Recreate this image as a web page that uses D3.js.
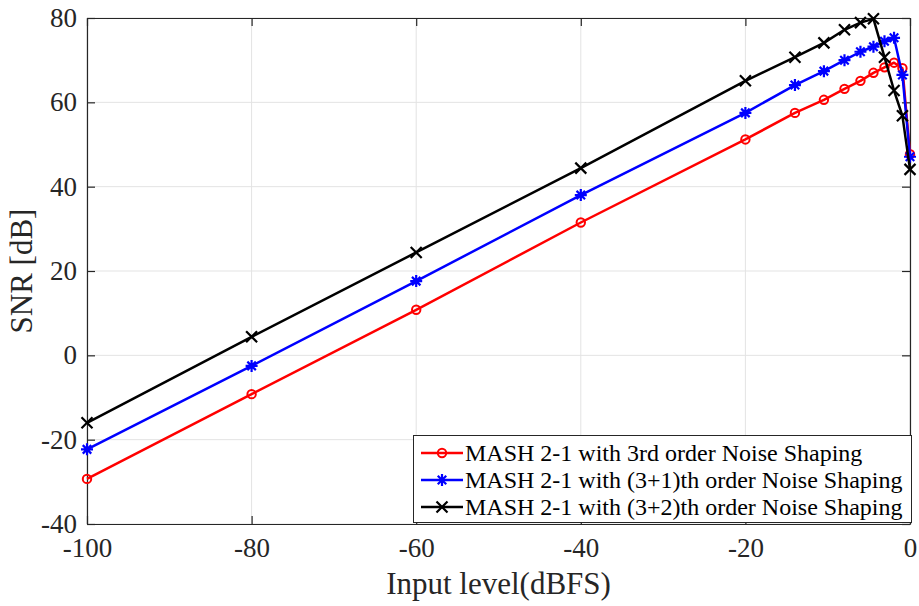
<!DOCTYPE html>
<html><head><meta charset="utf-8">
<script src="https://cdn.jsdelivr.net/npm/d3@7"></script>
<style>body{margin:0;background:#fff}svg{display:block}</style>
</head><body><svg id="c" width="919" height="606"></svg>
<script>
const xValues = [-100, -80, -60, -40, -20, -13.98, -10.46, -7.96, -6.02, -4.44, -3.10, -1.94, -0.92, 0];
const snr3 = [-29.3, -9.2, 10.8, 31.5, 51.2, 57.5, 60.6, 63.2, 65.1, 67.0, 68.3, 69.4, 68.1, 47.7];
const snr31 = [-22.3, -2.5, 17.6, 38.0, 57.5, 64.1, 67.4, 70.0, 72.0, 73.2, 74.5, 75.3, 66.5, 47.1];
const snr32 = [-16.0, 4.4, 24.4, 44.4, 65.1, 70.7, 74.1, 77.2, 78.9, 79.8, 70.7, 62.8, 56.8, 44.1];
const seriesNames = ["MASH 2-1 with 3rd order Noise Shaping", "MASH 2-1 with (3+1)th order Noise Shaping", "MASH 2-1 with (3+2)th order Noise Shaping"];
const xTicks = [-100, -80, -60, -40, -20, 0];
const yTicks = [-40, -20, 0, 20, 40, 60, 80];
const xLabel = "Input level(dBFS)";
const yLabel = "SNR [dB]";

const series = [
  {name: seriesNames[0], values: snr3, color: "#ff0000", marker: "circle"},
  {name: seriesNames[1], values: snr31, color: "#0000ff", marker: "asterisk"},
  {name: seriesNames[2], values: snr32, color: "#000000", marker: "cross"}
];

const svg = d3.select("#c");
const L = 87, R = 910, T = 18, B = 524;
const x = d3.scaleLinear().domain([-100, 0]).range([L, R]);
const y = d3.scaleLinear().domain([-40, 80]).range([B, T]);
const axisColor = "#262626";
const font = "'Liberation Serif','Times New Roman',serif";
const fmt = d => String(d);

// grid
svg.append("g").selectAll("line").data(xTicks).join("line")
  .attr("x1", d => x(d)).attr("x2", d => x(d)).attr("y1", T).attr("y2", B)
  .attr("stroke", "#e3e3e3").attr("stroke-width", 1);
svg.append("g").selectAll("line").data(yTicks).join("line")
  .attr("x1", L).attr("x2", R).attr("y1", d => y(d)).attr("y2", d => y(d))
  .attr("stroke", "#e3e3e3").attr("stroke-width", 1);

// axes
const xAxis = d3.axisBottom(x).tickValues(xTicks).tickSizeInner(-8).tickSizeOuter(0).tickPadding(14).tickFormat(fmt);
const yAxis = d3.axisLeft(y).tickValues(yTicks).tickSizeInner(-8).tickSizeOuter(0).tickPadding(10).tickFormat(fmt);
const gx = svg.append("g").attr("transform", `translate(0,${B})`).call(xAxis);
const gy = svg.append("g").attr("transform", `translate(${L},0)`).call(yAxis);
const gx2 = svg.append("g").attr("transform", `translate(0,${T})`).call(d3.axisTop(x).tickValues(xTicks).tickSizeInner(-8).tickSizeOuter(0).tickFormat(""));
const gy2 = svg.append("g").attr("transform", `translate(${R},0)`).call(d3.axisRight(y).tickValues(yTicks).tickSizeInner(-8).tickSizeOuter(0).tickFormat(""));
[gx, gy, gx2, gy2].forEach(g => {
  g.select(".domain").attr("stroke", axisColor).attr("stroke-width", 1.2);
  g.selectAll(".tick line").attr("stroke", axisColor).attr("stroke-width", 1.2);
  g.selectAll(".tick text").attr("fill", axisColor).style("font-family", font).style("font-size", "27px");
});

// axis titles
svg.append("text").attr("x", (L + R) / 2).attr("y", 594).attr("text-anchor", "middle")
  .style("font-family", font).style("font-size", "31px").attr("fill", axisColor).text(xLabel);
svg.append("text").attr("transform", `translate(32,${(T + B) / 2}) rotate(-90)`).attr("text-anchor", "middle")
  .style("font-family", font).style("font-size", "31px").attr("fill", axisColor).text(yLabel);

// markers
function drawMarker(g, type, cx, cy, color) {
  if (type === "circle") {
    g.append("circle").attr("cx", cx).attr("cy", cy).attr("r", 4.2)
      .attr("fill", "none").attr("stroke", color).attr("stroke-width", 2);
  } else if (type === "cross") {
    const s = 5.5;
    g.append("path").attr("d", `M${cx - s},${cy - s}L${cx + s},${cy + s}M${cx - s},${cy + s}L${cx + s},${cy - s}`)
      .attr("stroke", color).attr("stroke-width", 2.2).attr("fill", "none");
  } else {
    const s = 6;
    const d = 0.7071 * s;
    g.append("path").attr("d", `M${cx - s},${cy}L${cx + s},${cy}M${cx},${cy - s}L${cx},${cy + s}M${cx - d},${cy - d}L${cx + d},${cy + d}M${cx - d},${cy + d}L${cx + d},${cy - d}`)
      .attr("stroke", color).attr("stroke-width", 2.2).attr("fill", "none");
  }
}

const line = d3.line().x((d, i) => x(xValues[i])).y(d => y(d));
series.forEach(s => {
  const g = svg.append("g");
  g.append("path").datum(s.values).attr("d", line).attr("fill", "none")
    .attr("stroke", s.color).attr("stroke-width", 2.5).attr("stroke-linejoin", "round");
  s.values.forEach((v, i) => drawMarker(g, s.marker, x(xValues[i]), y(v), s.color));
});

// legend
const lg = svg.append("g");
lg.append("rect").attr("x", 413.5).attr("y", 435.5).attr("width", 498).attr("height", 87)
  .attr("fill", "#fff").attr("stroke", axisColor).attr("stroke-width", 1);
series.forEach((s, i) => {
  const cy = 453 + i * 27;
  lg.append("line").attr("x1", 421).attr("x2", 463).attr("y1", cy).attr("y2", cy)
    .attr("stroke", s.color).attr("stroke-width", 2.5);
  drawMarker(lg, s.marker, 442, cy, s.color);
  lg.append("text").attr("x", 465).attr("y", cy + 8).style("font-family", font).style("font-size", "24px")
    .attr("fill", "#000").text(s.name);
});
</script></body></html>
